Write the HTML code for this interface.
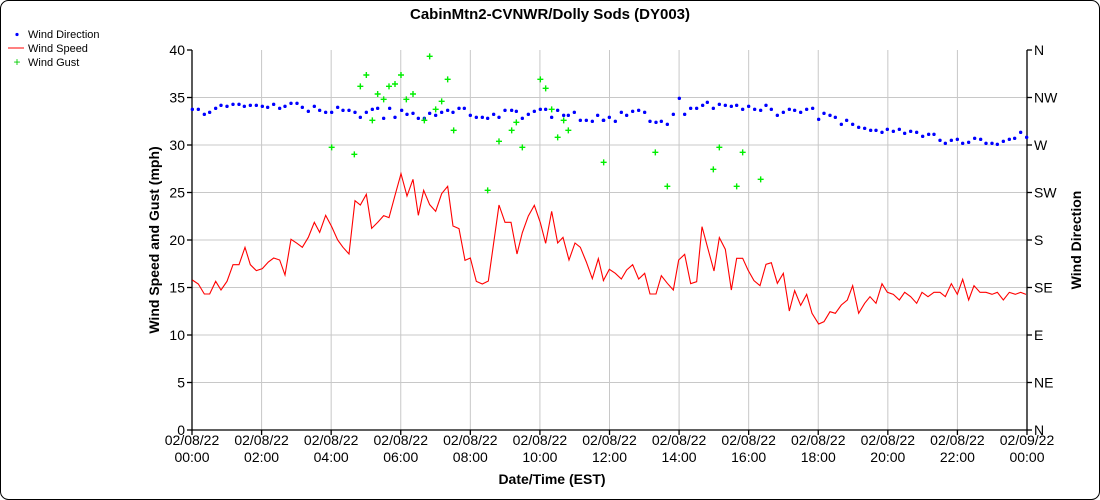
<!DOCTYPE html>
<html><head><meta charset="utf-8"><style>
body{margin:0;background:#fff;}
svg{display:block;font-family:"Liberation Sans",Arial,sans-serif;}
</style></head><body>
<svg id="s" width="1100" height="500" xmlns="http://www.w3.org/2000/svg">
<rect x="0.5" y="0.5" width="1099" height="499" rx="8" fill="#fff" stroke="#000"/>
<text x="550" y="19" text-anchor="middle" font-size="15" font-weight="bold">CabinMtn2-CVNWR/Dolly Sods (DY003)</text>
<g font-size="11">
<circle cx="17" cy="34.5" r="1.6" fill="#00f"/><text x="28" y="38">Wind Direction</text>
<line x1="8" y1="48" x2="24" y2="48" stroke="#f00"/><text x="28" y="52">Wind Speed</text>
<text x="17" y="66" fill="#0c0" text-anchor="middle" font-size="12">+</text><text x="28" y="66">Wind Gust</text>
</g>
<g id="grid" stroke="#c8c8c8" stroke-width="1"></g>
<g id="axes" stroke="#000" stroke-width="1.3"></g>
<g id="labels" font-size="14"></g>
<g id="data"></g>
<text x="552" y="484" text-anchor="middle" font-size="14" font-weight="bold">Date/Time (EST)</text>
<text transform="translate(159,240) rotate(-90)" text-anchor="middle" font-size="14" font-weight="bold">Wind Speed and Gust (mph)</text>
<text transform="translate(1081,240) rotate(-90)" text-anchor="middle" font-size="14" font-weight="bold">Wind Direction</text>
</svg>
<script>
const NS="http://www.w3.org/2000/svg";
function el(p,t,a,txt){const e=document.createElementNS(NS,t);for(const k in a)e.setAttribute(k,a[k]);if(txt!==undefined)e.textContent=txt;document.getElementById(p).appendChild(e);return e;}
const L=192,R=1027,T=50,B=430;
for(let i=0;i<=8;i++){const y=B-i*(B-T)/8;
 if(i>0&&i<8)el("grid","line",{x1:L,x2:R,y1:y,y2:y});
 el("axes","line",{x1:L-5,x2:L,y1:y,y2:y});el("axes","line",{x1:R,x2:R+5,y1:y,y2:y});
 el("labels","text",{x:L-7,y:y+5,"text-anchor":"end"},String(i*5));
 el("labels","text",{x:R+7,y:y+5},["N","NE","E","SE","S","SW","W","NW","N"][i]);}
const dates=["00:00","02:00","04:00","06:00","08:00","10:00","12:00","14:00","16:00","18:00","20:00","22:00","00:00"];
for(let i=0;i<=12;i++){const x=L+i*(R-L)/12;
 if(i>0&&i<12)el("grid","line",{x1:x,x2:x,y1:T,y2:B});
 el("axes","line",{x1:x,x2:x,y1:B,y2:B+5});
 el("labels","text",{x:x,y:B+15,"text-anchor":"middle"},i==12?"02/09/22":"02/08/22");
 el("labels","text",{x:x,y:B+32,"text-anchor":"middle"},dates[i]);}
el("axes","line",{x1:L,x2:L,y1:T,y2:B});el("axes","line",{x1:R,x2:R,y1:T,y2:B});el("axes","line",{x1:L,x2:R,y1:B,y2:B});
function c1(p){return [185+p[0]/3,40+p[1]/3];}
function c2(p){return [600+p[0]/3,40+p[1]/3];}
const r1=[[22,720],[40,732],[58,762],[74,762],[92,724],[108,750],[126,724],[144,674],[162,674],[180,622],[196,674],[214,692],[232,686],[250,666],[266,654],[284,660],[300,705],[318,598],[336,610],[352,622],[370,592],[388,547],[404,577],[422,526],[440,560],[458,600],[474,622],[492,642],[510,482],[526,495],[544,463],[560,565],[578,547],[596,527],[612,533],[630,466],[648,401],[666,468],[684,418],[700,526],[716,451],[734,494],[752,514],[770,461],[788,439],[804,558],[822,566],[840,661],[856,654],[874,724],[892,732],[910,723],[942,495],[960,547],[978,547],[996,642],[1012,578],[1030,528],[1048,496],[1066,548],[1082,610],[1100,514],[1118,609],[1134,592],[1152,660],[1170,609],[1186,622],[1204,666],[1222,716],[1240,656],[1256,724]];
const r2=[[10,722],[28,688],[46,700],[64,717],[80,690],[98,674],[116,717],[134,700],[150,762],[168,762],[184,707],[202,730],[220,750],[236,660],[254,643],[272,731],[290,725],[306,560],[324,627],[342,693],[358,593],[376,628],[394,750],[410,655],[428,655],[444,690],[462,722],[480,737],[498,673],[514,668],[532,730],[550,700],[568,813],[584,752],[602,796],[620,763],[636,820],[656,852],[672,845],[690,815],[706,820],[724,795],[742,780],[758,737],[776,820],[794,790],[810,770],[828,790],[846,731],[862,757],[880,763],[898,780],[914,757],[932,770],[950,790],[966,757],[984,770],[1002,757],[1020,757],[1036,770],[1054,731],[1072,763],[1088,718],[1106,780],[1122,737],[1140,757],[1158,757],[1176,763],[1192,757],[1210,780],[1228,757],[1246,763],[1262,757],[1278,763]];
const pts=r1.map(c1).concat(r2.map(c2));
el("data","polyline",{points:pts.map(p=>p.join(",")).join(" "),fill:"none",stroke:"#f00","stroke-width":1.1});
const b1=[[22,208],[40,208],[58,223],[74,217],[92,205],[108,196],[126,199],[144,193],[162,193],[178,199],[196,196],[214,196],[232,199],[248,202],[266,193],[284,205],[300,199],[318,190],[336,190],[352,202],[370,214],[388,199],[404,211],[422,217],[440,217],[458,202],[474,211],[492,211],[510,217],[526,232],[544,217],[562,208],[578,205],[596,235],[614,205],[630,232],[650,211],[666,223],[684,220],[700,235],[718,235],[734,220],[752,226],[770,217],[788,211],[804,217],[822,205],[838,205],[856,226],[874,232],[892,232],[908,235],[926,223],[942,232],[960,211],[980,211],[994,214],[1012,235],[1030,223],[1048,214],[1066,208],[1082,208],[1100,232],[1118,211],[1136,226],[1150,226],[1168,217],[1186,241],[1204,241],[1222,244],[1238,226],[1256,241]];
const b2=[[10,241],[28,232],[46,244],[64,217],[80,226],[98,214],[116,211],[134,217],[150,244],[168,247],[184,244],[202,253],[220,223],[238,175],[254,223],[272,205],[290,205],[308,196],[322,187],[340,205],[358,193],[376,196],[394,199],[410,196],[428,208],[446,199],[464,208],[482,211],[498,196],[514,208],[532,226],[550,217],[568,208],[584,211],[602,217],[620,208],[638,205],[656,238],[672,220],[690,226],[706,232],[724,253],[740,241],[758,253],[776,262],[794,265],[812,271],[828,271],[846,277],[862,268],[880,274],[898,268],[914,280],[932,274],[950,277],[968,289],[986,283],[1002,283],[1020,301],[1036,310],[1054,301],[1072,298],[1088,310],[1106,307],[1124,295],[1142,298],[1158,310],[1176,310],[1192,313],[1210,304],[1228,298],[1244,295],[1262,277],[1280,292]];
b1.map(c1).concat(b2.map(c2)).forEach(p=>el("data","circle",{cx:p[0],cy:p[1],r:1.7,fill:"#00f"}));
const g1=[[440,322],[508,343],[526,139],[544,105],[562,241],[578,162],[596,178],[612,139],[630,132],[648,105],[664,178],[684,162],[718,241],[734,49],[752,208],[770,184],[788,118],[806,271],[908,451],[942,304],[980,271],[994,247],[1012,322],[1066,118],[1082,145],[1100,208],[1118,292],[1136,241],[1150,271],[1256,367]];
const g2=[[166,337],[202,439],[340,388],[358,322],[410,439],[428,337],[482,418]];
g1.map(c1).concat(g2.map(c2)).forEach(p=>el("data","path",{d:`M${p[0]-3},${p[1]}h6M${p[0]},${p[1]-3}v6`,stroke:"#0e0","stroke-width":1.4}));
</script>
</body></html>
